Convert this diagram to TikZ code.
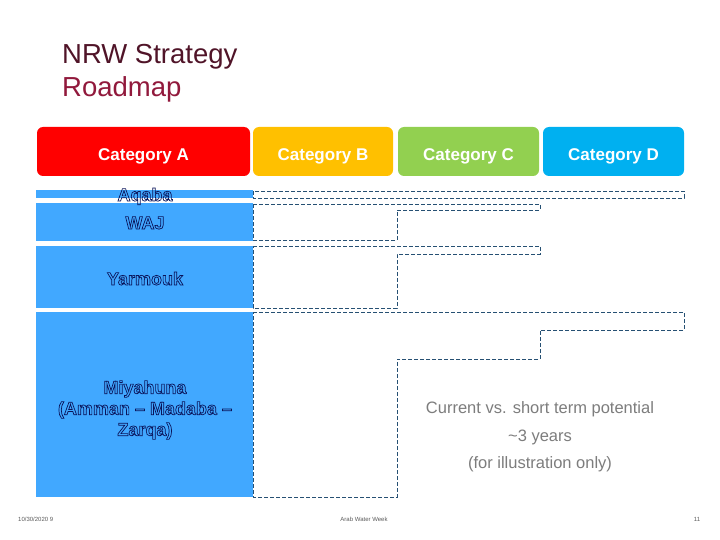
\documentclass[tikz,border=0pt]{standalone}
\usepackage{fontspec}
\setmainfont{Liberation Sans}
\definecolor{catA}{RGB}{255,0,0}
\definecolor{catB}{RGB}{255,192,0}
\definecolor{catC}{RGB}{146,208,80}
\definecolor{catD}{RGB}{0,176,240}
\definecolor{rowblue}{RGB}{65,168,255}
\definecolor{dashc}{RGB}{38,80,115}
\definecolor{navyo}{RGB}{10,20,90}
\definecolor{titleA}{RGB}{80,20,40}
\definecolor{titleB}{RGB}{145,25,60}
\definecolor{notec}{RGB}{125,125,125}
\definecolor{footc}{RGB}{90,90,90}
\newcommand{\outlinetext}[1]{\special{pdf:literal direct 1 Tr 0.7 w}#1\special{pdf:literal direct 0 Tr}}
\tikzset{
  catbox/.style={rounded corners=6pt, minimum height=49pt, inner sep=0pt,
    text=white, text height=19pt, text depth=0pt,
    font=\fontsize{17}{20}\selectfont\bfseries},
  rowbox/.style={fill=rowblue, minimum width=217pt, inner sep=0pt},
  rowlabel/.style={inner sep=0pt, align=center, text=navyo,
    font=\fontsize{18}{21}\selectfont\bfseries},
  dashline/.style={draw=dashc, line width=0.9pt, dash pattern=on 4pt off 2pt},
  notetext/.style={inner sep=0pt, anchor=base, text=notec,
    font=\fontsize{16.5}{20}\selectfont},
  foottext/.style={inner sep=0pt, anchor=base, text=footc,
    font=\fontsize{6}{7}\selectfont},
  titletext/.style={inner sep=0pt, anchor=base west,
    font=\fontsize{27.5}{33}\selectfont}
}
\begin{document}
\begin{tikzpicture}[x=1pt,y=-1pt]
\useasboundingbox[fill=white] (0,0) rectangle (720,540);

% title
\node[titletext, text=titleA] (t1) at (62,64) {NRW Strategy};
\node[titletext, text=titleB] (t2) at (62,97) {Roadmap};

% category headers
\node[catbox, fill=catA, minimum width=213pt] (ca) at (143.5,151.5) {Category A};
\node[catbox, fill=catB, minimum width=140pt] (cb) at (323,151.5) {Category B};
\node[catbox, fill=catC, minimum width=141pt] (cc) at (468.5,151.5) {Category C};
\node[catbox, fill=catD, minimum width=141pt] (cd) at (613.5,151.5) {Category D};

% blue rows
\node[rowbox, minimum height=8pt] (aq) at (144.5,194) {};
\node[rowbox, minimum height=38pt] (waj) at (144.5,222) {};
\node[rowbox, minimum height=62pt] (yar) at (144.5,277) {};
\node[rowbox, minimum height=185pt] (miy) at (144.5,404.5) {};

% dashed outlines
\draw[dashline] (253,191) rectangle (684,198);
\draw[dashline] (253,204) -- (540,204) -- (540,210) -- (397,210) -- (397,240) -- (253,240) -- cycle;
\draw[dashline] (253,246) -- (540,246) -- (540,254) -- (397,254) -- (397,308) -- (253,308) -- cycle;
\draw[dashline] (253,312) -- (684,312) -- (684,330) -- (540,330) -- (540,359) -- (397,359) -- (397,497) -- (253,497) -- cycle;

% row labels
\node[rowlabel, anchor=base] (laq) at (145,201) {\outlinetext{Aqaba}};
\node[rowlabel, anchor=base] (lwaj) at (145,229) {\outlinetext{WAJ}};
\node[rowlabel, anchor=base] (lyar) at (145,285) {\outlinetext{Yarmouk}};
\node[rowlabel] (lmiy) at (145,410) {\outlinetext{Miyahuna}\\\outlinetext{(Amman \textendash\ Madaba \textendash}\\\outlinetext{Zarqa)}};

% note
\node[notetext] (n1) at (540,413) {Current vs. short term potential};
\node[notetext] (n2) at (540,441) {\textasciitilde 3 years};
\node[notetext] (n3) at (540,468) {(for illustration only)};

% footer
\node[foottext, anchor=base west] (fl) at (18,521) {10/30/2020 9};
\node[foottext] (fc) at (364,521) {Arab Water Week};
\node[foottext] (fr) at (697,521) {11};
\end{tikzpicture}
\end{document}
